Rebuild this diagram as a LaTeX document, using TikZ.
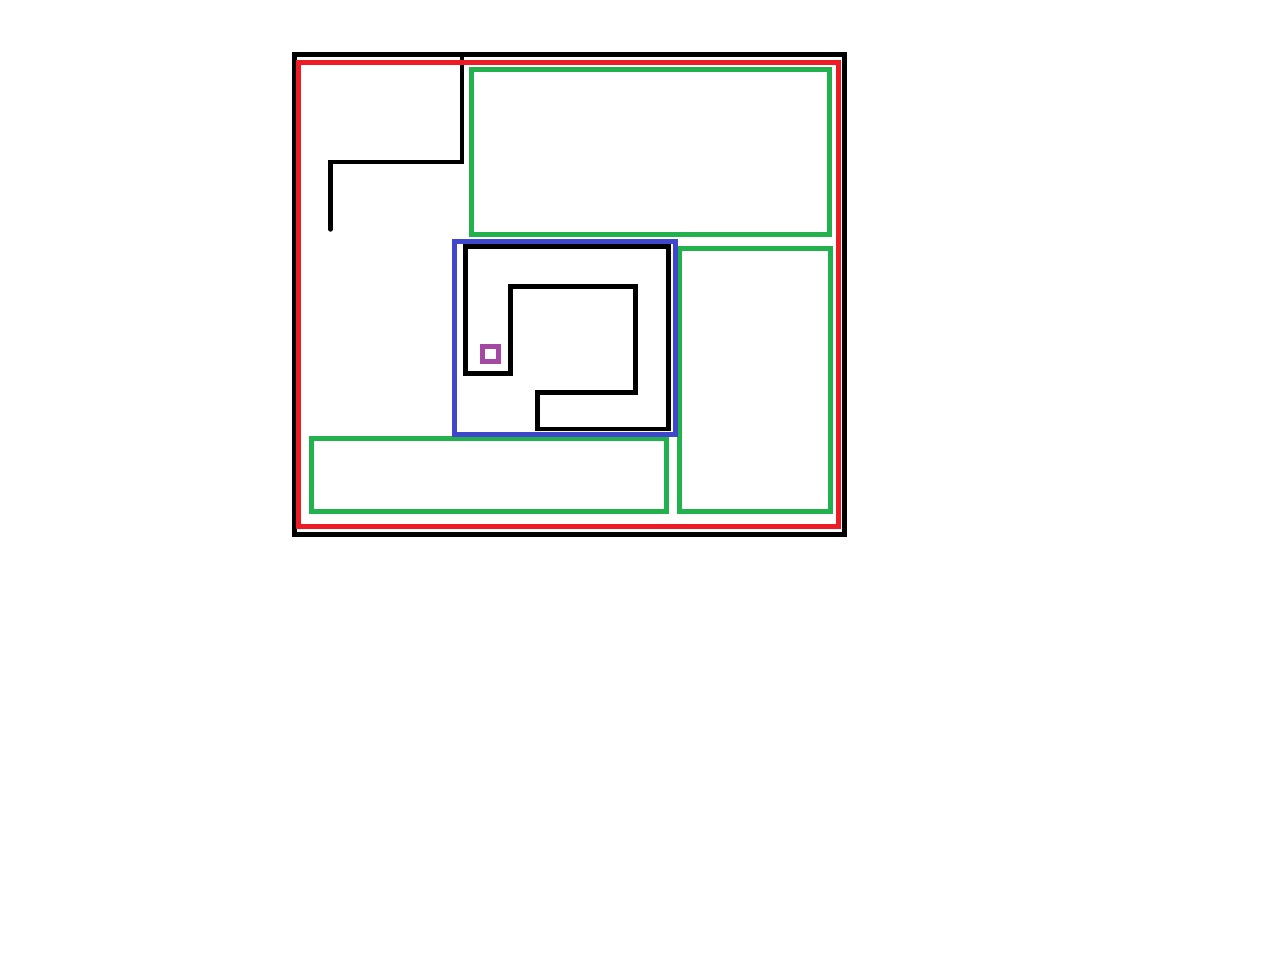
\documentclass[tikz,border=0pt]{standalone}
\usepackage{xcolor}
\usepackage{tikz}
\definecolor{ink}{HTML}{000000}
\definecolor{cRed}{HTML}{ED1C24}
\definecolor{cGreen}{HTML}{22B14C}
\definecolor{cBlue}{HTML}{3F48CC}
\definecolor{cPurple}{HTML}{A349A4}
\tikzset{
  wall/.style    = {draw=ink, line width=4.4pt, line join=miter},
  trail/.style   = {wall, line cap=round},
  redbox/.style  = {draw=cRed, line width=4.7pt},
  zone/.style    = {draw=cGreen, line width=5pt},
  bluebox/.style = {draw=cBlue, line width=5pt},
  marker/.style  = {draw=cPurple, line width=5pt},
}

\begin{document}
\begin{tikzpicture}[x=1pt, y=-1pt]
  \useasboundingbox (0,0) rectangle (1284,968);
  \fill[white] (0,0) rectangle (1284,968);

  % outer frame and top-left corridor
  \draw[wall] (294.5,54.5) rectangle (844.5,534.5);
  \draw[trail] (462.2,54.5) -- (462.2,162.3) -- (330.5,162.3) -- (330.5,229.5);

  \draw[redbox] (298.3,62.3) rectangle (838.3,526.2);

  % green zones
  \draw[zone] (471.5,69.2) rectangle (829.2,234.2);
  \draw[zone] (679.8,248.4) rectangle (830.2,511.8);
  \draw[zone] (311.8,438.4) rectangle (666.4,511.7);

  % blue room with the inner spiral
  \draw[bluebox] (454.8,241.5) rectangle (675.2,434.2);
  \draw[wall] (537.3,392.5) -- (537.3,429) -- (668.3,429) -- (668.3,246.5)
    -- (465.5,246.5) -- (465.5,373.5) -- (510.3,373.5) -- (510.3,286.3)
    -- (635.5,286.3) -- (635.5,392.5) -- cycle;

  \draw[marker] (482.5,346.5) rectangle (498.5,361.5);
\end{tikzpicture}
\end{document}
